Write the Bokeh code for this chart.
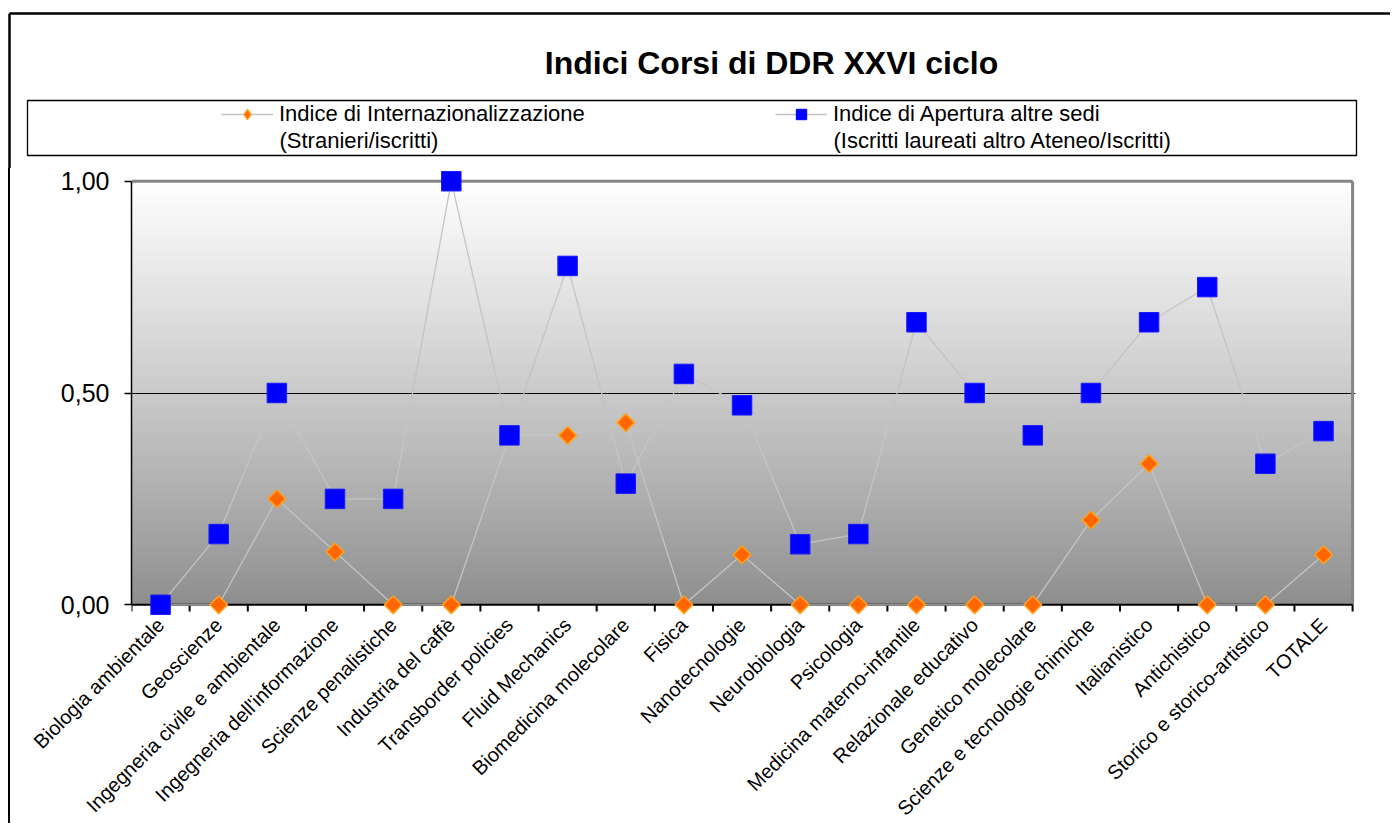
import numpy as np
from math import pi
from bokeh.plotting import figure
from bokeh.models import FixedTicker, Legend, LegendItem, Label, Div, Range1d
from bokeh.layouts import column, row
from bokeh.embed import file_html
from bokeh.resources import INLINE

# ---------------- data ----------------
TITLE = "Indici Corsi di DDR XXVI ciclo"
categories = [
    "Biologia ambientale", "Geoscienze", "Ingegneria civile e ambientale",
    "Ingegneria dell'informazione", "Scienze penalistiche", "Industria del caffè",
    "Transborder policies", "Fluid Mechanics", "Biomedicina molecolare", "Fisica",
    "Nanotecnologie", "Neurobiologia", "Psicologia", "Medicina materno-infantile",
    "Relazionale educativo", "Genetico molecolare", "Scienze e tecnologie chimiche",
    "Italianistico", "Antichistico", "Storico e storico-artistico", "TOTALE",
]
internazionalizzazione = [0.0, 0.0, 0.25, 0.125, 0.0, 0.0, 0.4, 0.4, 0.43, 0.0, 0.118,
                          0.0, 0.0, 0.0, 0.0, 0.0, 0.2, 0.333, 0.0, 0.0, 0.118]
apertura = [0.0, 0.167, 0.5, 0.25, 0.25, 1.0, 0.4, 0.8, 0.286, 0.545, 0.471,
            0.143, 0.167, 0.667, 0.5, 0.4, 0.5, 0.667, 0.75, 0.333, 0.41]
series_names = ["Indice di Internazionalizzazione", "Indice di Apertura altre sedi"]
series_notes = ["(Stranieri/iscritti)", "(Iscritti laureati altro Ateneo/Iscritti)"]
y_ticks = [0, 0.5, 1]
y_tick_labels = ["0,00", "0,50", "1,00"]

# ---------------- style ----------------
FONT = "Liberation Sans"
LINE_GRAY = "#c4c4c4"
ORANGE = "#ff6600"
ORANGE_EDGE = "#ffa31a"
BLUE = "#0000ff"

W = 1390          # total content width
HA = 168          # header figure height (page y 0..168)

def px(x):        # page x -> header data x
    return x

def py(y):        # page y -> header data y
    return HA - y

# ---------------- header: title + legend ----------------
top = figure(width=W, height=HA, x_range=Range1d(0, W), y_range=Range1d(0, HA),
             min_border=0, toolbar_location=None, output_backend="svg",
             x_axis_type=None, y_axis_type=None, outline_line_color=None)
top.xgrid.visible = False
top.ygrid.visible = False

# outer chart frame (top + left)
top.segment(x0=[px(9), px(9)], y0=[py(13), py(13)], x1=[W, px(9)], y1=[py(13), 0],
            line_color="black", line_width=2.5)
# legend box
top.quad(left=px(27), right=px(1356), top=py(100), bottom=py(155),
         fill_color=None, line_color="black", line_width=1.3)

top.add_layout(Label(x=px(771), y=py(62), text=TITLE, text_align="center",
                     text_baseline="middle", text_font=FONT, text_font_size="32px",
                     text_font_style="bold", text_color="black"))

# legend proxies (drawn off-canvas, only used by the legend)
off = [-1000]
la = top.line(off, off, line_color=LINE_GRAY, line_width=1.3)
sa = top.scatter(off, off, marker="diamond", size=14, fill_color=ORANGE,
                 line_color=ORANGE_EDGE, line_width=1.5)
lb = top.line(off, off, line_color=LINE_GRAY, line_width=1.3)
sb = top.scatter(off, off, marker="square", size=12, fill_color=BLUE, line_color=BLUE)

legend = Legend(items=[LegendItem(label=series_names[0], renderers=[la, sa]),
                       LegendItem(label=series_names[1], renderers=[lb, sb])],
                location=(px(221), py(127)), orientation="horizontal",
                glyph_width=52, glyph_height=26, label_standoff=6, label_width=400,
                label_height=26, spacing=96, padding=0, margin=0,
                border_line_color=None, background_fill_alpha=0,
                label_text_font=FONT, label_text_font_size="22px",
                label_text_color="black")
top.add_layout(legend)

# second line of each legend entry
for xx, note in zip([279, 833], series_notes):
    top.add_layout(Label(x=px(xx), y=py(140), text=note, text_align="left",
                         text_baseline="middle", text_font=FONT, text_font_size="22px",
                         text_color="black"))

# ---------------- main chart ----------------
X_UNIT = 58.15
Y_UNIT = 424.0
XR = Range1d(-0.5, 20.55)
YR = Range1d(-0.03, 1.03)
fw = int(round((XR.end - XR.start) * X_UNIT))
fh = int(round((YR.end - YR.start) * Y_UNIT))

p = figure(frame_width=fw, frame_height=fh, x_range=XR, y_range=YR,
           min_border_left=121, min_border_right=29, min_border_top=0, min_border_bottom=0,
           toolbar_location=None, output_backend="svg", outline_line_color=None,
           background_fill_color="white", border_fill_color="white")

xs = list(range(len(categories)))
x_left, x_right = -0.5, len(categories) - 0.5

# gradient background of plot area
n = 140
edges = np.linspace(0, 1, n + 1)
mid = (edges[:-1] + edges[1:]) / 2
g = (141 + (255 - 141) * mid ** 0.9).astype(int)
cols = ["#%02x%02x%02x" % (v, v, v) for v in g]
p.quad(left=x_left, right=x_right, bottom=edges[:-1], top=np.minimum(edges[1:] + 0.004, 1),
       fill_color=cols, line_color=None, level="image")

# plot-area borders
p.segment(x0=[x_left, x_right], y0=[1, 0], x1=[x_right, x_right], y1=[1, 1],
          line_color="#858585", line_width=3)
# x axis line and boundary ticks
p.segment(x0=x_left, y0=0, x1=x_right, y1=0, line_color="black", line_width=2)
bx = np.arange(len(categories) + 1) - 0.5
p.segment(x0=bx, y0=0, x1=bx, y1=-0.016, line_color="black", line_width=2)

# series
p.line(xs, internazionalizzazione, line_color=LINE_GRAY, line_width=1.3)
p.scatter(xs, internazionalizzazione, marker="square", angle=pi / 4, size=12.5,
          fill_color=ORANGE, line_color=ORANGE_EDGE, line_width=1.5)
p.line(xs, apertura, line_color=LINE_GRAY, line_width=1.3)
p.scatter(xs, apertura, marker="square", size=19.5, fill_color=BLUE,
          line_color="#1a1aff", line_width=1)

# grid: only the 0,50 line
p.xgrid.visible = False
p.ygrid.ticker = FixedTicker(ticks=[0.5])
p.ygrid.grid_line_color = "black"
p.ygrid.grid_line_width = 1.2

# x axis
p.xaxis.ticker = FixedTicker(ticks=xs)
p.xaxis.major_label_overrides = {i: c for i, c in enumerate(categories)}
p.xaxis.major_label_orientation = pi / 4
p.xaxis.axis_line_color = None
p.xaxis.major_tick_line_color = None
p.xaxis.minor_tick_line_color = None
p.xaxis.major_tick_out = 0
p.xaxis.major_tick_in = 0
p.xaxis.major_label_standoff = 4
p.xaxis.major_label_text_font = FONT
p.xaxis.major_label_text_font_size = "20px"
p.xaxis.major_label_text_color = "black"

# y axis
p.yaxis.ticker = FixedTicker(ticks=y_ticks)
p.yaxis.major_label_overrides = dict(zip(y_ticks, y_tick_labels))
p.yaxis.bounds = (0, 1)
p.yaxis.axis_line_color = "black"
p.yaxis.axis_line_width = 1.5
p.yaxis.major_tick_out = 7
p.yaxis.major_tick_in = 0
p.yaxis.major_tick_line_width = 1.5
p.yaxis.minor_tick_line_color = None
p.yaxis.major_label_standoff = 15
p.yaxis.major_label_text_font = FONT
p.yaxis.major_label_text_font_size = "25px"
p.yaxis.major_label_text_color = "black"

strip = Div(text="", width=2, height=655, margin=(0, 0, 0, 8),
            styles={"background-color": "black"})
layout = column(top, row(strip, p, spacing=0), spacing=0)

with open("out.html", "w") as f:
    f.write(file_html(layout, INLINE, title=TITLE))
